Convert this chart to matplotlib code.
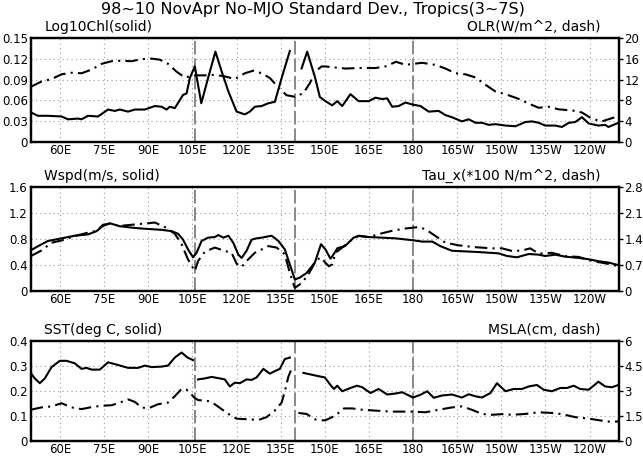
import numpy as np
import matplotlib
matplotlib.use("Agg")
import matplotlib.pyplot as plt

nan = np.nan

# ---- panel 1: Log10Chl (solid, left) / OLR (dash, right)
chl_lon = [50.0, 52.5, 55.9, 60.5, 62.7, 66.1, 67.3, 69.5, 72.9, 76.3, 78.6, 80.3, 83.1, 85.4,
           88.8, 92.2, 94.5, 96.2, 97.3, 99.0, 101.8, 103.0, 104.1, 105.8, 108.0, 110.3, 112.8,
           114.9, 117.2, 120.0, 122.8, 124.5, 126.2, 128.5, 130.8, 133.0, 135.3, 138.1, 140.0,
           142.1, 144.0, 146.6, 148.3, 150.2, 152.5, 154.2, 155.9, 158.7, 161.5, 164.9, 167.2,
           169.5, 171.2, 172.9, 175.1, 177.4, 180.0, 182.5, 185.3, 188.7, 191.0, 193.2, 196.6,
           198.9, 201.2, 203.4, 205.7, 208.0, 211.4, 214.8, 218.1, 220.4, 222.7, 224.9, 228.3,
           230.6, 232.9, 235.1, 237.4, 239.7, 243.0, 245.3, 246.4, 249.8]
chl = [0.043, 0.038, 0.038, 0.037, 0.033, 0.034, 0.033, 0.038, 0.037, 0.047, 0.045, 0.047, 0.044,
       0.047, 0.047, 0.052, 0.051, 0.047, 0.051, 0.049, 0.068, 0.070, 0.092, 0.109, 0.056, 0.092,
       0.130, 0.102, 0.073, 0.044, 0.040, 0.044, 0.051, 0.052, 0.056, 0.058, 0.092, 0.131, nan,
       0.106, 0.130, 0.094, 0.065, 0.059, 0.053, 0.059, 0.052, 0.069, 0.059, 0.059, 0.064,
       0.062, 0.063, 0.051, 0.052, 0.057, 0.054, 0.052, 0.044, 0.045, 0.039, 0.036, 0.030,
       0.033, 0.028, 0.028, 0.025, 0.026, 0.024, 0.023, 0.029, 0.030, 0.028, 0.024, 0.024,
       0.022, 0.028, 0.029, 0.036, 0.027, 0.024, 0.025, 0.022, 0.028]

olr_lon = [50.0, 53.6, 57.1, 60.5, 63.9, 67.3, 70.7, 74.1, 77.5, 80.9, 84.3, 87.7, 91.1, 93.9,
           96.7, 99.6, 102.4, 105.8, 109.2, 112.6, 116.0, 119.4, 122.8, 125.7, 128.5, 131.3,
           134.2, 137.0, 139.8, 142.7, 144.9, 146.6, 148.9, 150.2, 153.6, 157.0, 161.5, 167.2,
           170.6, 174.2, 177.4, 180.0, 183.1, 187.6, 191.0, 194.4, 197.8, 201.2, 204.6, 208.0,
           211.4, 215.9, 219.3, 222.7, 226.1, 229.5, 234.0, 237.4, 240.8, 244.2, 246.4, 249.8]
olr = [10.6, 11.6, 12.1, 13.0, 13.3, 13.2, 13.9, 15.0, 15.5, 15.6, 15.5, 15.9, 16.0, 15.8,
       15.0, 13.5, 12.4, 12.8, 12.8, 12.9, 12.6, 12.1, 13.2, 13.7, 13.2, 12.3,
       10.5, 9.0, 8.7, 9.4, 11.3, 13.5, 14.5, 14.5, 14.3, 14.1, 14.2, 14.2,
       14.5, 15.4, 14.8, 15.0, 15.2, 14.8, 14.1, 13.2, 13.0, 12.4, 11.0, 9.7,
       9.2, 8.3, 7.4, 6.6, 6.8, 6.3, 6.1, 5.7, 4.5, 4.0, 4.4, 5.0]

# ---- panel 2: Wspd (solid, left) / Tau_x (dash, right)
wspd_lon = [50.0, 52.5, 55.9, 60.5, 65.0, 69.5, 72.4, 74.6, 76.9, 80.3, 84.3, 87.7, 91.1, 94.5,
            97.9, 100.1, 101.8, 103.5, 105.2, 106.4, 108.1, 110.3, 112.6, 113.8, 115.5, 117.2,
            118.9, 120.6, 121.7, 123.4, 125.1, 126.8, 128.5, 131.9, 134.2, 136.4, 138.7, 139.8,
            141.5, 143.8, 146.6, 148.7, 150.2, 151.9, 152.6, 154.3, 156.8, 159.8, 161.5, 164.9,
            169.5, 174.0, 180.0, 183.1, 186.5, 189.3, 193.2, 197.8, 202.3, 209.1, 211.9, 215.3,
            219.3, 222.7, 224.9, 228.3, 231.7, 236.3, 239.7, 243.0, 246.4, 249.8]
wspd = [0.626, 0.69, 0.77, 0.81, 0.85, 0.87, 0.92, 1.0, 1.04, 0.995, 0.974, 0.96, 0.95, 0.94,
        0.92, 0.88, 0.79, 0.64, 0.52, 0.59, 0.77, 0.82, 0.83, 0.86, 0.82, 0.85,
        0.74, 0.56, 0.51, 0.62, 0.79, 0.81, 0.82, 0.85, 0.77, 0.64, 0.33, 0.18,
        0.21, 0.28, 0.44, 0.72, 0.64, 0.50, 0.54, 0.66, 0.69, 0.82, 0.85, 0.83,
        0.82, 0.81, 0.78, 0.76, 0.76, 0.69, 0.62, 0.61, 0.60, 0.58, 0.54, 0.52,
        0.57, 0.56, 0.54, 0.56, 0.53, 0.51, 0.49, 0.46, 0.44, 0.40]

tau_lon = [50.0, 53.6, 57.1, 60.5, 65.0, 69.5, 72.4, 74.6, 76.9, 80.3, 84.3, 88.3, 92.2, 95.6,
           99.0, 101.3, 103.5, 105.8, 106.9, 109.2, 112.6, 116.0, 118.3, 120.0, 121.7, 123.4,
           126.2, 128.5, 130.8, 133.6, 136.4, 138.1, 139.8, 142.1, 144.4, 147.2, 148.9, 150.2,
           151.4, 152.5, 153.6, 155.9, 159.3, 161.5, 164.9, 168.3, 172.9, 177.4, 181.9, 184.2,
           187.6, 191.0, 195.5, 201.2, 206.8, 210.2, 213.6, 217.0, 219.8, 222.7, 227.2, 231.7,
           236.3, 240.8, 245.3, 249.8]
tau = [0.94, 1.09, 1.30, 1.36, 1.48, 1.57, 1.62, 1.78, 1.81, 1.75, 1.78, 1.81, 1.84, 1.72,
       1.54, 1.26, 0.85, 0.54, 0.81, 1.06, 1.17, 1.08, 1.03, 0.74, 0.65, 0.81,
       1.03, 1.12, 1.21, 1.17, 0.99, 0.49, 0.09, 0.22, 0.45, 0.85, 0.90, 0.76,
       0.67, 0.72, 1.03, 1.17, 1.39, 1.48, 1.45, 1.53, 1.62, 1.68, 1.72, 1.66,
       1.48, 1.30, 1.23, 1.18, 1.15, 1.15, 1.08, 1.09, 1.15, 1.01, 1.03, 0.94,
       0.92, 0.81, 0.75, 0.67]

# ---- panel 3: SST (solid, left) / MSLA (dash, right)
sst_lon = [50.0, 51.4, 53.1, 54.8, 57.1, 59.9, 62.2, 65.0, 67.3, 69.0, 70.7, 73.5, 76.3, 79.2,
           83.1, 86.5, 88.8, 91.1, 94.5, 96.7, 99.0, 101.3, 103.3, 105.2, 106.0, 106.9, 109.2,
           111.5, 114.3, 116.0, 117.7, 119.4, 121.1, 123.4, 125.1, 126.8, 129.1, 131.3, 133.0,
           134.7, 136.4, 138.1, 140.0, 142.7, 145.5, 147.8, 150.0, 151.9, 153.1, 154.2, 155.9,
           158.7, 160.9, 162.7, 165.5, 168.3, 171.2, 174.0, 176.3, 180.0, 182.5, 184.8, 187.0,
           189.8, 193.2, 196.6, 198.9, 201.2, 203.4, 206.3, 208.5, 211.4, 214.2, 217.0, 219.3,
           222.1, 224.4, 227.2, 230.0, 232.3, 234.6, 236.8, 239.7, 243.0, 245.3, 247.6, 249.8]
sst = [0.272, 0.25, 0.231, 0.25, 0.295, 0.32, 0.32, 0.31, 0.288, 0.292, 0.285, 0.285, 0.314,
       0.305, 0.292, 0.292, 0.301, 0.295, 0.297, 0.301, 0.333, 0.353, 0.333, 0.323, nan, 0.246,
       0.25, 0.256, 0.25, 0.246, 0.218, 0.233, 0.231, 0.246, 0.244, 0.254, 0.288, 0.269, 0.279,
       0.288, 0.327, 0.333, nan, 0.272, 0.265, 0.259, 0.254, 0.224, 0.208, 0.221, 0.199,
       0.212, 0.221, 0.215, 0.192, 0.208, 0.186, 0.19, 0.195, 0.174, 0.185, 0.199, 0.173,
       0.182, 0.186, 0.174, 0.187, 0.179, 0.174, 0.192, 0.231, 0.199, 0.208, 0.208, 0.218,
       0.224, 0.205, 0.199, 0.212, 0.212, 0.221, 0.208, 0.205, 0.237, 0.218, 0.215, 0.224]

msla_lon = [50.0, 53.6, 57.1, 60.5, 63.9, 67.3, 70.7, 74.1, 77.5, 80.3, 83.1, 85.4, 87.7, 89.9,
            93.3, 96.7, 99.0, 101.3, 103.0, 104.7, 105.6, 106.9, 110.3, 112.6, 114.9, 117.2,
            120.0, 124.0, 127.4, 130.2, 133.0, 135.3, 136.4, 137.6, 138.7, 140.0, 141.0, 143.8,
            146.6, 148.9, 150.2, 153.6, 156.5, 159.3, 162.7, 167.2, 172.9, 180.0, 184.2, 188.7,
            193.2, 196.6, 200.0, 203.4, 206.8, 210.2, 213.6, 218.1, 222.7, 227.2, 230.6, 235.1,
            239.7, 244.2, 247.6, 249.8]
msla = [1.88, 2.02, 2.08, 2.27, 2.02, 1.92, 2.04, 2.12, 2.15, 2.31, 2.5, 2.35, 2.02, 1.96,
        2.21, 2.31, 2.69, 3.12, 3.08, 2.79, 2.6, 2.46, 2.40, 2.21, 1.92, 1.63,
        1.35, 1.31, 1.27, 1.44, 1.83, 2.31, 2.98, 3.85, 4.33, nan, 1.69, 1.63,
        1.31, 1.25, 1.25, 1.54, 1.96, 1.96, 1.88, 1.83, 1.77, 1.77, 1.73, 1.88,
        2.02, 2.08, 1.88, 1.63, 1.58, 1.62, 1.58, 1.63, 1.73, 1.69, 1.62, 1.44,
        1.35, 1.23, 1.15, 1.19]

xticks = [60, 75, 90, 105, 120, 135, 150, 165, 180, 195, 210, 225, 240]
xlabels = ['60E', '75E', '90E', '105E', '120E', '135E', '150E', '165E', '180',
           '165W', '150W', '135W', '120W']
boundaries = [106, 140, 180]

panels = [
    (chl_lon, chl, olr_lon, olr, [0, 0.03, 0.06, 0.09, 0.12, 0.15], ['0', '0.03', '0.06', '0.09', '0.12', '0.15'],
     [0, 4, 8, 12, 16, 20], ['0', '4', '8', '12', '16', '20'], 'Log10Chl(solid)', 'OLR(W/m^2, dash)'),
    (wspd_lon, wspd, tau_lon, tau, [0, 0.4, 0.8, 1.2, 1.6], ['0', '0.4', '0.8', '1.2', '1.6'],
     [0, 0.7, 1.4, 2.1, 2.8], ['0', '0.7', '1.4', '2.1', '2.8'], 'Wspd(m/s, solid)', 'Tau_x(*100 N/m^2, dash)'),
    (sst_lon, sst, msla_lon, msla, [0, 0.1, 0.2, 0.3, 0.4], ['0', '0.1', '0.2', '0.3', '0.4'],
     [0, 1.5, 3, 4.5, 6], ['0', '1.5', '3', '4.5', '6'], 'SST(deg C, solid)', 'MSLA(cm, dash)'),
]

plt.rcParams['font.family'] = 'DejaVu Sans'
fig = plt.figure(figsize=(6.43, 4.58), dpi=100)
fig.text(0.487, 0.979, '98~10 NovApr No-MJO Standard Dev., Tropics(3~7S)', ha='center', va='center',
         fontsize=11.5)

# [bottom, height] for each panel
boxes = [(0.6893, 0.2284), (0.3640, 0.2284), (0.0365, 0.2196)]
for (x1, y1, x2, y2, lt, ll, rt, rl, ltxt, rtxt), (b, h) in zip(panels, boxes):
    ax = fig.add_axes([0.0477, b, 0.915, h])
    ax.set_xlim(50, 250)
    ax.set_ylim(lt[0], lt[-1])
    ax.set_xticks(xticks)
    ax.set_xticklabels(xlabels)
    ax.set_yticks(lt)
    ax.set_yticklabels(ll)
    ax.grid(True, color='#999999', linestyle=(0, (1, 3)), linewidth=0.8)
    for v in boundaries:
        ax.axvline(v, color='#888888', linewidth=1.4, linestyle=(0, (7, 2)), zorder=1)
    ax.plot(x1, y1, color='black', linewidth=1.5, zorder=3)
    ax2 = ax.twinx()
    ax2.set_ylim(rt[0], rt[-1])
    ax2.set_yticks(rt)
    ax2.set_yticklabels(rl)
    ax2.plot(x2, y2, color='black', linewidth=1.5, linestyle=(0, (6, 2.5, 1, 2.5)))
    for a in (ax, ax2):
        for s in a.spines.values():
            s.set_linewidth(1.6)
    ax.tick_params(axis='x', labelsize=8.5, direction='in', length=0, pad=1.5)
    ax.tick_params(axis='y', labelsize=8.5, direction='in', length=0, pad=2)
    ax2.tick_params(axis='y', labelsize=8.5, length=3, width=1, pad=1)
    ax.text(0.023, 1.035, ltxt, transform=ax.transAxes, ha='left', va='bottom', fontsize=10)
    ax.text(0.968, 1.035, rtxt, transform=ax.transAxes, ha='right', va='bottom', fontsize=10)

fig.savefig('out.png', dpi=100)
